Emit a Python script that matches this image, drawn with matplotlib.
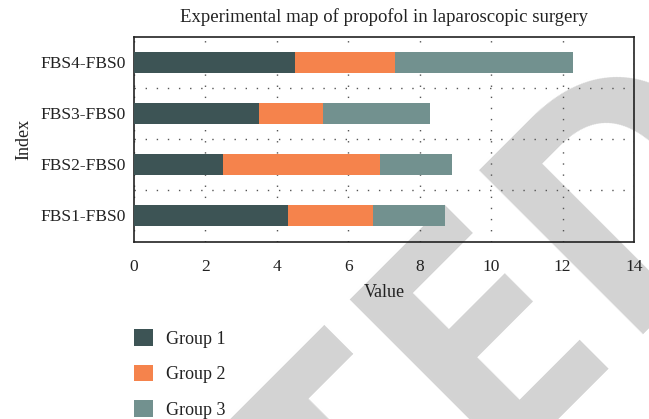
import numpy as np
import matplotlib.pyplot as plt

# data
categories = ["FBS1-FBS0", "FBS2-FBS0", "FBS3-FBS0", "FBS4-FBS0"]
group1 = [4.3, 2.5, 3.5, 4.5]
group2 = [2.4, 4.4, 1.8, 2.8]
group3 = [2.0, 2.0, 3.0, 5.0]
groups = ["Group 1", "Group 2", "Group 3"]
colors = ["#3d5455", "#f5834c", "#72918f"]
xticks = [0, 2, 4, 6, 8, 10, 12, 14]

plt.rcParams['font.family'] = ['Liberation Serif', 'DejaVu Serif']

fig = plt.figure(figsize=(6.49, 4.19), dpi=100)
ax = fig.add_axes([0.2065, 0.4224, 0.7704, 0.4893])
ax.patch.set_alpha(0)

# watermark behind the chart
fig.text(1.2108, 0.6117, "RETRACTED", fontsize=235, family='Open Sans',
         weight='bold', color='#d3d3d3', rotation=45, rotation_mode='anchor',
         ha='right', va='baseline', zorder=-1)

y = np.arange(len(categories))
left = np.zeros(len(categories))
for vals, name, c in zip([group1, group2, group3], groups, colors):
    ax.barh(y, vals, left=left, height=0.41, color=c, label=name, zorder=3)
    left = left + np.array(vals)

ax.set_xlim(0, 14)
ax.set_ylim(-0.52, 3.5)
ax.set_xticks(xticks)
ax.set_yticks(y)
ax.set_yticklabels(categories)
ax.set_yticks([0.5, 1.5, 2.5], minor=True)
ax.tick_params(axis='both', which='both', length=0, labelsize=12.5, colors='#222222')
ax.tick_params(axis='x', pad=12)
ax.tick_params(axis='y', pad=6)
ax.grid(axis='x', which='major', color='#555555', linewidth=1, linestyle=(0, (1, 7)))
ax.grid(axis='y', which='minor', color='#555555', linewidth=1, linestyle=(0, (1, 7)))
for s in ax.spines.values():
    s.set_linewidth(1.2)
    s.set_color('#222222')

ax.set_title("Experimental map of propofol in laparoscopic surgery", fontsize=13.5,
             color='#222222', pad=11)
ax.set_xlabel("Value", fontsize=13, color='#222222', labelpad=7)
ax.set_ylabel("Index", fontsize=13, color='#222222', labelpad=6)

fig.legend(loc='upper left', bbox_to_anchor=(134/649, 1 - 329/419), frameon=False,
           fontsize=13, handlelength=1.05, handleheight=1.05, labelspacing=0.95,
           handletextpad=0.7, borderpad=0, borderaxespad=0, labelcolor='#222222')

fig.savefig("out.png", dpi=100)
